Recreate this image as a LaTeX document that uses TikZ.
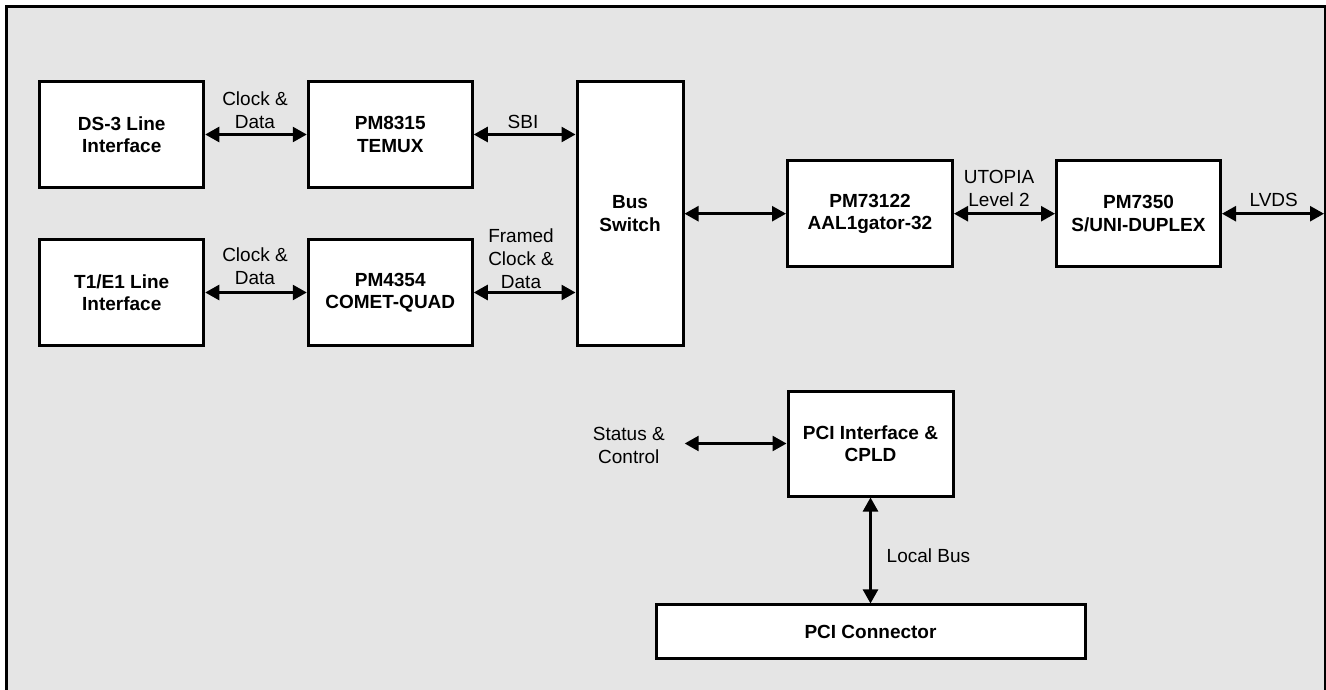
\documentclass[tikz,border=0pt]{standalone}
\usepackage{fontspec}
\setmainfont{Liberation Sans}
\usetikzlibrary{arrows.meta}
\definecolor{bgray}{RGB}{229,229,229}
\tikzset{
  blk/.style={draw=black, fill=white, line width=3pt, inner sep=0pt, align=center,
    font=\fontsize{19}{22.5}\selectfont\bfseries, minimum width=164pt, minimum height=106pt},
  lbl/.style={inner sep=0pt, align=center, font=\fontsize{19}{23}\selectfont},
  link/.style={line width=2.5pt, {Triangle[length=14pt,width=15pt]}-{Triangle[length=14pt,width=15pt]}}
}
\begin{document}
\begin{tikzpicture}[x=1pt,y=-1pt]
\clip (0,0) rectangle (1326,690);
\fill[white] (0,0) rectangle (1326,690);
\draw[line width=3pt, fill=bgray] (6.5,6.2) rectangle (1325.5,720);

\node[blk] (ds3) at (121.75,134.5) {DS-3 Line\\Interface};
\node[blk] (temux) at (390.25,134.5) {PM8315\\TEMUX};
\node[blk] (t1) at (121.75,292.5) {T1/E1 Line\\Interface};
\node[blk] (comet) at (390.25,292.5) {PM4354\\COMET-QUAD};
\node[blk, minimum width=106pt, minimum height=263pt] (bus) at (630,213.5) {Bus\\Switch};
\node[blk, minimum width=165pt] (aal) at (870,213.7) {PM73122\\AAL1gator-32};
\node[blk] (duplex) at (1138.5,213.7) {PM7350\\S/UNI-DUPLEX};
\node[blk, minimum width=165pt, minimum height=105pt] (pci) at (870.5,443.5) {PCI Interface \&\\CPLD};
\node[blk, minimum width=429pt, minimum height=53.5pt] (conn) at (870.5,631.7) {PCI Connector};

\coordinate (lvdsend) at (1324,213.7);
\coordinate (statend) at (684.7,443.5);

\draw[link] (ds3.east) -- (temux.west);
\draw[link] (temux.east) -- (temux.east -| bus.west);
\draw[link] (t1.east) -- (comet.west);
\draw[link] (comet.east) -- (comet.east -| bus.west);
\draw[link] (bus.east |- aal.west) -- (aal.west);
\draw[link] (aal.east) -- (duplex.west);
\draw[link] (duplex.east) -- (lvdsend);
\draw[link] (statend) -- (pci.west);
\draw[link] (pci.south) -- (conn.north);

\node[lbl] (l1) at (255,110.5) {Clock \&\\Data};
\node[lbl] (l2) at (523,122) {SBI};
\node[lbl] (l3) at (255,266.7) {Clock \&\\Data};
\node[lbl] (l4) at (521,259) {Framed\\Clock \&\\Data};
\node[lbl] (l5) at (999,188.7) {UTOPIA\\Level 2};
\node[lbl] (l6) at (1273.7,200) {LVDS};
\node[lbl] (l7) at (628.8,445.5) {Status \&\\Control};
\node[lbl] (l8) at (928.4,555.7) {Local Bus};
\end{tikzpicture}
\end{document}
